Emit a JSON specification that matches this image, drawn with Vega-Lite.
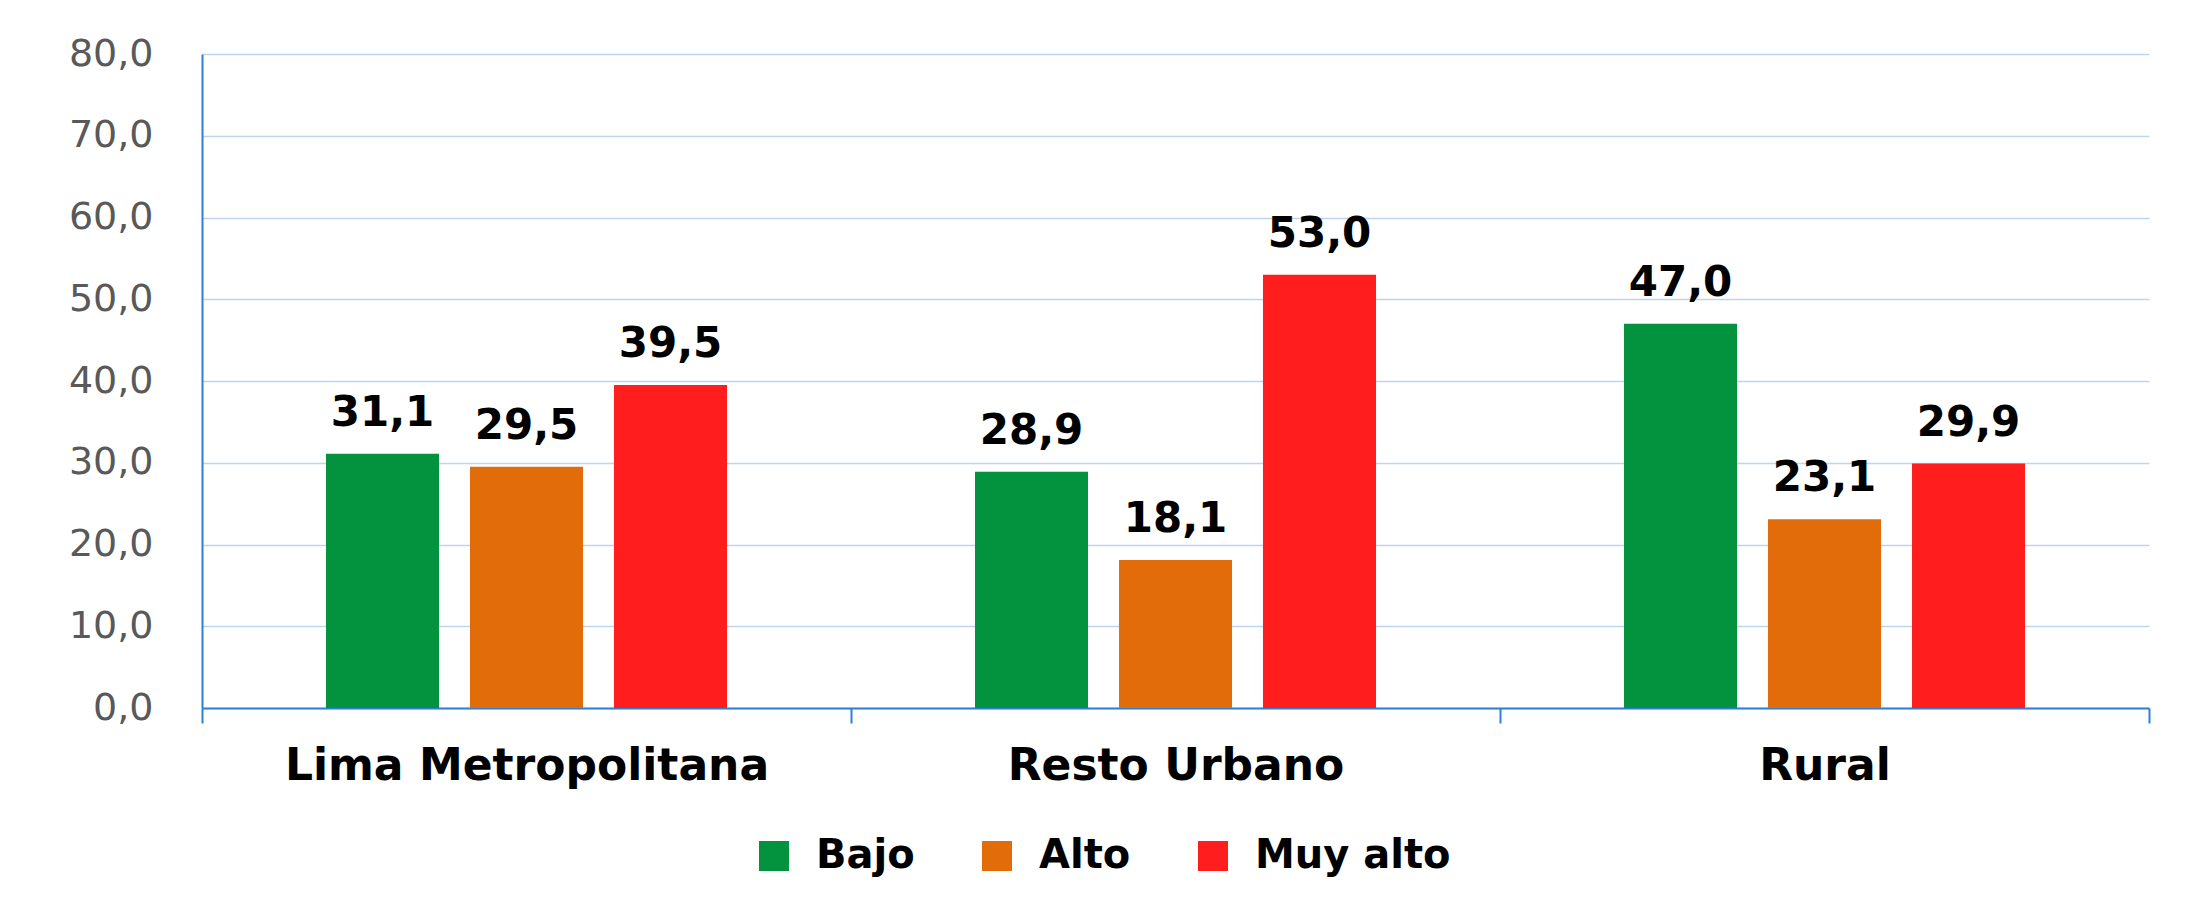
{
  "$schema": "https://vega.github.io/schema/vega-lite/v6.json",
  "autosize": {"type": "none"},
  "padding": {"left": 202, "top": 54, "right": 49, "bottom": 206},
  "width": 1947,
  "height": 654,
  "background": "white",
  "config": {
    "locale": {"number": {"decimal": ",", "thousands": ".", "grouping": [3], "currency": ["", " €"]}},
    "view": {"stroke": null}
  },
  "data": {
    "values": [
      {"zona": "Lima Metropolitana", "nivel": "Bajo", "valor": 31.1},
      {"zona": "Lima Metropolitana", "nivel": "Alto", "valor": 29.5},
      {"zona": "Lima Metropolitana", "nivel": "Muy alto", "valor": 39.5},
      {"zona": "Resto Urbano", "nivel": "Bajo", "valor": 28.9},
      {"zona": "Resto Urbano", "nivel": "Alto", "valor": 18.1},
      {"zona": "Resto Urbano", "nivel": "Muy alto", "valor": 53.0},
      {"zona": "Rural", "nivel": "Bajo", "valor": 47.0},
      {"zona": "Rural", "nivel": "Alto", "valor": 23.1},
      {"zona": "Rural", "nivel": "Muy alto", "valor": 29.9}
    ]
  },
  "encoding": {
    "x": {
      "field": "zona", "type": "nominal", "sort": null,
      "scale": {"paddingInner": 0, "paddingOuter": 0},
      "axis": {
        "title": null, "labelAngle": 0, "tickBand": "extent",
        "domainColor": "#2E7FD6", "domainWidth": 2, "tickColor": "#2E7FD6", "tickWidth": 2, "tickSize": 15,
        "labelFont": "DejaVu Sans", "labelFontWeight": "bold", "labelFontSize": 44, "labelColor": "#000000",
        "labelBaseline": "alphabetic", "labelPadding": 56, "labelLimit": 0, "grid": false
      }
    },
    "xOffset": {
      "field": "nivel", "type": "nominal", "sort": ["Bajo", "Alto", "Muy alto"],
      "scale": {"paddingInner": 0.215, "paddingOuter": 0.861}
    },
    "y": {
      "field": "valor", "type": "quantitative",
      "scale": {"domain": [0, 80], "nice": false},
      "axis": {
        "title": null, "values": [0, 10, 20, 30, 40, 50, 60, 70, 80], "format": ".1f",
        "domainColor": "#2E7FD6", "domainWidth": 2, "ticks": false, "tickSize": 0,
        "gridColor": "#BFD4EE", "gridWidth": 1.5,
        "labelFont": "DejaVu Sans", "labelFontSize": 38, "labelColor": "#595959", "labelPadding": 49
      }
    }
  },
  "layer": [
    {
      "mark": {"type": "bar"},
      "encoding": {
        "color": {
          "field": "nivel", "type": "nominal", "sort": ["Bajo", "Alto", "Muy alto"],
          "scale": {"domain": ["Bajo", "Alto", "Muy alto"], "range": ["#03923E", "#E36C0A", "#FF1D1D"]},
          "legend": {
            "title": null, "orient": "none", "direction": "horizontal",
            "legendX": 552, "legendY": 782,
            "symbolType": "square", "symbolSize": 900, "symbolStrokeWidth": 0,
            "labelFont": "DejaVu Sans", "labelFontWeight": "bold", "labelFontSize": 40, "labelColor": "#000000",
            "labelOffset": 22, "columnPadding": 62, "labelLimit": 400
          }
        }
      }
    },
    {
      "mark": {"type": "text", "baseline": "alphabetic", "dy": -28, "font": "DejaVu Sans", "fontWeight": "bold", "fontSize": 42, "color": "#000000"},
      "encoding": {
        "text": {"field": "valor", "type": "quantitative", "format": ".1f"}
      }
    }
  ]
}
